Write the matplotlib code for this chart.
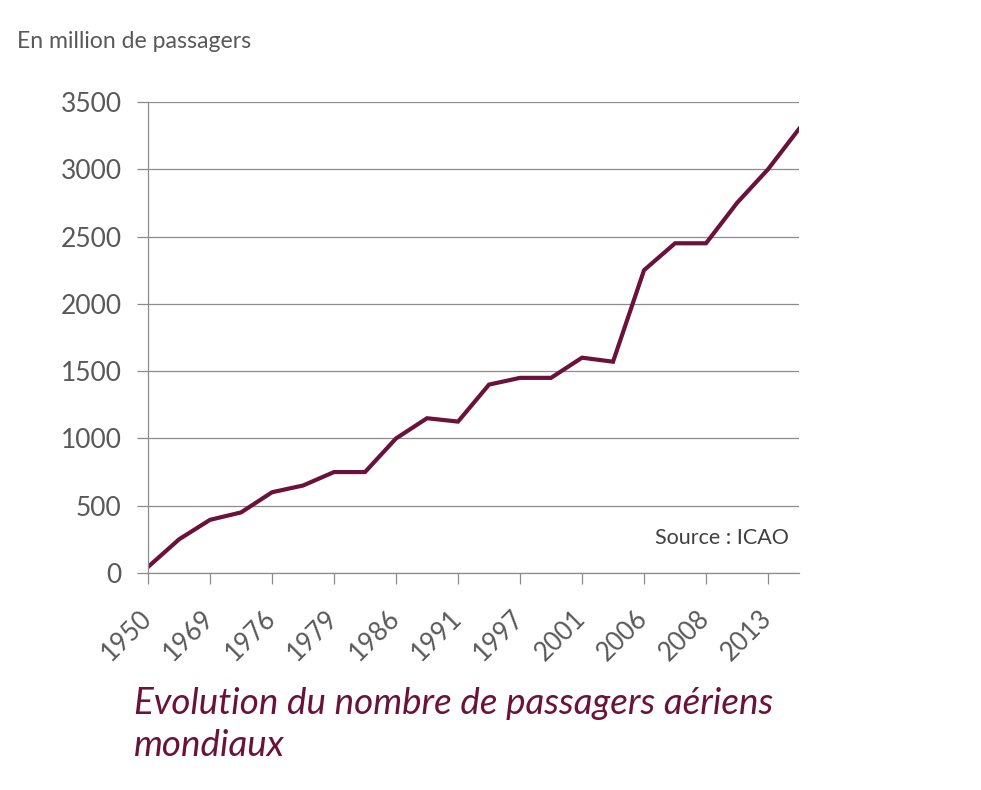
import numpy as np
import matplotlib
matplotlib.use('Agg')
from matplotlib import pyplot as plt

# data (million passengers)
years = ['1950', '1960', '1969', '1972', '1976', '1977', '1979', '1982',
         '1986', '1989', '1991', '1994', '1997', '1999', '2001', '2003',
         '2006', '2007', '2008', '2010', '2013', '2015']
passengers = [45, 250, 395, 450, 600, 650, 750, 750,
              1000, 1150, 1125, 1400, 1450, 1450, 1600, 1570,
              2250, 2450, 2450, 2750, 3000, 3300]
yticks = [0, 500, 1000, 1500, 2000, 2500, 3000, 3500]

plt.rcParams['font.family'] = ['Lato', 'DejaVu Sans']
grey = '#595959'
maroon = '#6b1239'

fig = plt.figure(figsize=(9.81, 7.9), dpi=100)
ax = fig.add_axes([0.1509, 0.2747, 0.6636, 0.5962])

x = np.arange(len(years))
ax.plot(x, passengers, color=maroon, lw=3, solid_joinstyle='miter')

ax.set_xlim(0, len(years) - 1)
ax.set_ylim(0, 3500)
ax.set_yticks(yticks)
ax.set_yticklabels([str(v) for v in yticks], fontsize=19, color=grey)
ax.set_xticks(x[::2])
ax.set_xticklabels(years[::2], rotation=45, ha='right', va='center',
                   rotation_mode='anchor', fontsize=18.5, color=grey)

ax.grid(axis='y', color='#8c8c8c', lw=0.9)
ax.set_axisbelow(True)
for s in ['top', 'right']:
    ax.spines[s].set_visible(False)
for s in ['left', 'bottom']:
    ax.spines[s].set_color('#8c8c8c')
    ax.spines[s].set_linewidth(0.9)
ax.tick_params(axis='both', direction='out', length=8, color='#8c8c8c', width=0.9)
ax.tick_params(axis='y', pad=11)
ax.tick_params(axis='x', pad=22)

ax.text(0.985, 0.075, 'Source : ICAO', transform=ax.transAxes, ha='right',
        va='center', fontsize=15.5, color='#404040')

fig.text(0.017, 0.947, 'En million de passagers', fontsize=16.6, color=grey,
         va='center', ha='left')
fig.text(0.137, 0.036, 'Evolution du nombre de passagers aériens\nmondiaux',
         fontsize=26.5, style='italic', color=maroon, ha='left', va='bottom',
         linespacing=1.3)

fig.savefig('out.png', dpi=100)
